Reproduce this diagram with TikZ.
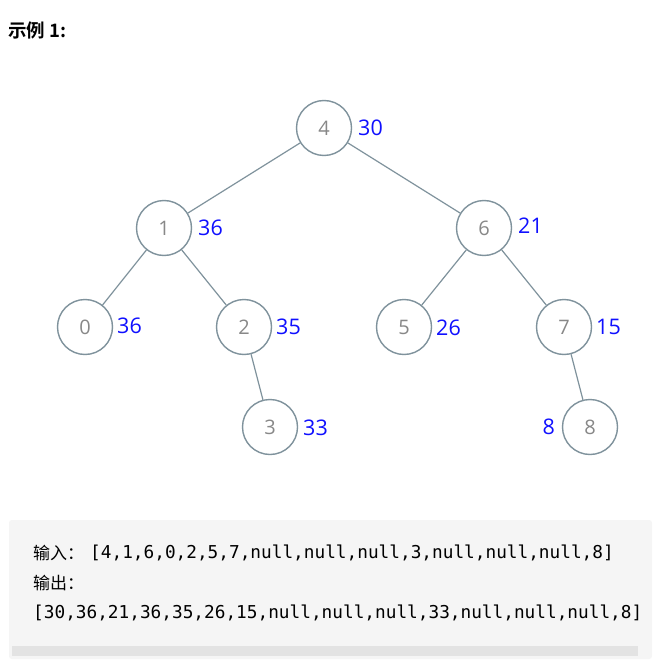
\documentclass[tikz,border=0pt]{standalone}
\usepackage{fontspec}
\setmainfont{Open Sans}
\newfontfamily\cjk{Noto Sans CJK SC}
\newfontfamily\cjkb{Noto Sans CJK SC Bold}
\newfontfamily\monof{DejaVu Sans Mono}
\definecolor{edgec}{HTML}{7F929C}
\definecolor{valc}{HTML}{1010FF}
\definecolor{numc}{HTML}{888888}
\definecolor{boxc}{HTML}{F5F5F5}
\definecolor{barc}{HTML}{E3E3E3}
\begin{document}
\begin{tikzpicture}[x=1pt,y=-1pt,
  tn/.style={circle,draw=edgec,line width=1.4pt,minimum size=55pt,inner sep=0pt,
    font=\fontsize{20}{20}\selectfont,text=numc,fill=white},
  val/.style={font=\fontsize{21.5}{21.5}\selectfont,text=valc,inner sep=0pt},
  ed/.style={draw=edgec,line width=1.2pt},
  code/.style={font=\monof\fontsize{17.75}{20}\selectfont,inner sep=0pt,anchor=west},
  cjkt/.style={font=\cjk\fontsize{17}{20}\selectfont,inner sep=0pt,anchor=west}]
\useasboundingbox[fill=white] (0,0) rectangle (652,660);
\node[font=\cjkb\fontsize{18.5}{18.5}\selectfont,anchor=west,inner sep=0pt] (title) at (8,30) {示例 1:};
% tree
\node[tn] (n4) at (324,128) {4};
\node[tn] (n1) at (164,228) {1};
\node[tn] (n6) at (484,228) {6};
\node[tn] (n0) at (85,327) {0};
\node[tn] (n2) at (244,327) {2};
\node[tn] (n5) at (404,327) {5};
\node[tn] (n7) at (564,327) {7};
\node[tn] (n3) at (270,427) {3};
\node[tn] (n8) at (590,427) {8};
\draw[ed] (n4) -- (n1);
\draw[ed] (n4) -- (n6);
\draw[ed] (n1) -- (n0);
\draw[ed] (n1) -- (n2);
\draw[ed] (n6) -- (n5);
\draw[ed] (n6) -- (n7);
\draw[ed] (n2) -- (n3);
\draw[ed] (n7) -- (n8);
\node[val,anchor=west] (v4) at (358,128) {30};
\node[val,anchor=west] (v1) at (198,228) {36};
\node[val,anchor=west] (v6) at (518,226) {21};
\node[val,anchor=west] (v0) at (117,326) {36};
\node[val,anchor=west] (v2) at (276,327) {35};
\node[val,anchor=west] (v5) at (436,328) {26};
\node[val,anchor=west] (v7) at (596,327) {15};
\node[val,anchor=west] (v3) at (303,428) {33};
\node[val,anchor=east] (v8) at (555,427) {8};
% code box
\fill[boxc,rounded corners=3pt] (9,520) rectangle (652,659);
\fill[barc] (12,646) rectangle (638,656);
\node[cjkt] (in) at (33,553) {输入：};
\node[code] (inc) at (90,553) {[4,1,6,0,2,5,7,null,null,null,3,null,null,null,8]};
\node[cjkt] (out) at (33,583) {输出：};
\node[code] (outc) at (33,613) {[30,36,21,36,35,26,15,null,null,null,33,null,null,null,8]};
\end{tikzpicture}
\end{document}
